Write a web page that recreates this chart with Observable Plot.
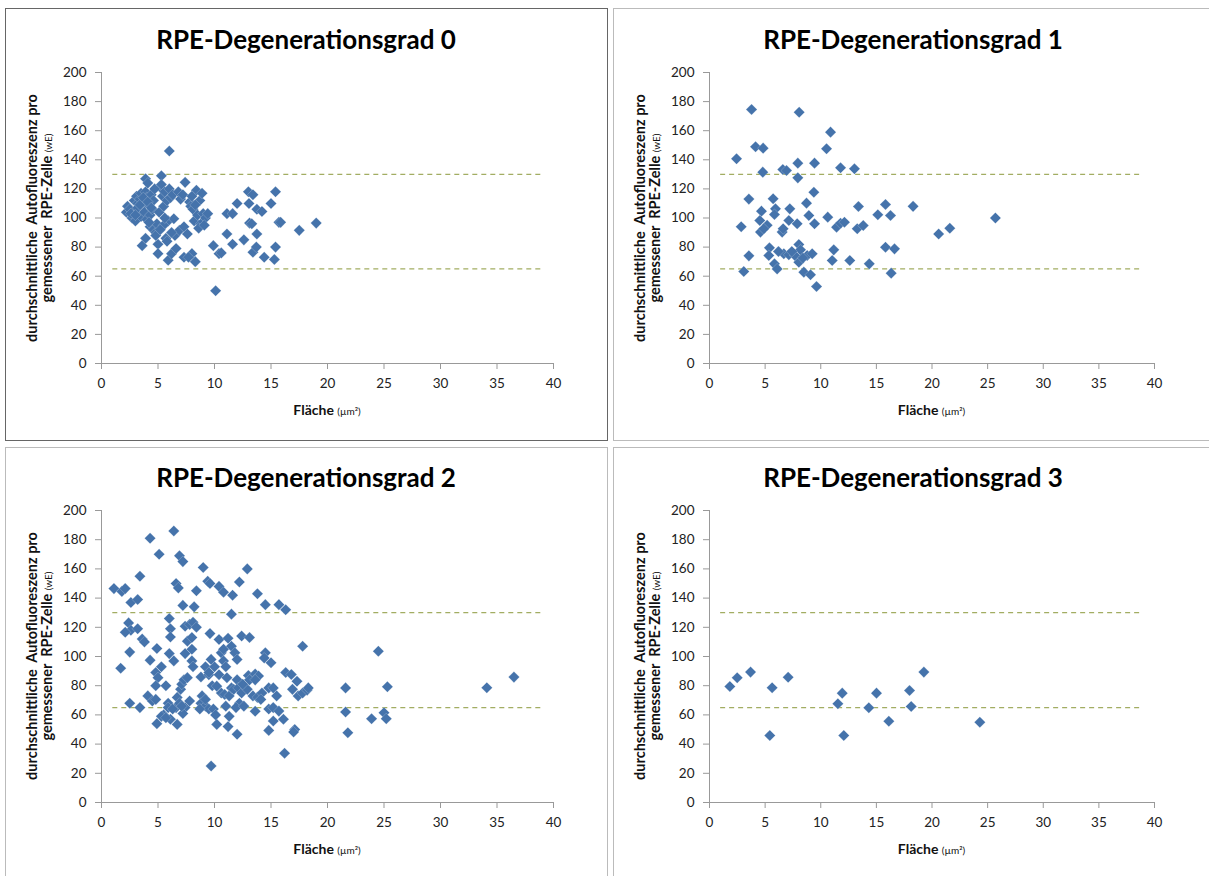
<!DOCTYPE html>
<html><head><meta charset="utf-8">
<script src="https://cdn.jsdelivr.net/npm/d3@7"></script>
<script src="https://cdn.jsdelivr.net/npm/@observablehq/plot@0.6"></script>
<style>
body{margin:0;background:#fff;}
#page{position:relative;width:1209px;height:876px;overflow:hidden;background:#fff;font-family:Lato,"Open Sans",sans-serif;color:#000;}
.panel{position:absolute;box-sizing:border-box;}
.title{position:absolute;font-weight:bold;font-size:26px;white-space:nowrap;transform:translate(-50%,-50%);}
.ylab{position:absolute;font-weight:bold;font-size:14.5px;white-space:nowrap;transform:translate(-50%,-50%) rotate(-90deg);color:#111;}
.xlab{position:absolute;font-weight:bold;font-size:14px;white-space:nowrap;transform:translate(-50%,-50%);color:#111;}
.small{font-weight:normal;font-size:10px;}
.plot{position:absolute;}
</style>
</head><body><div id="page"></div>
<script>
const titles = ["RPE-Degenerationsgrad 0","RPE-Degenerationsgrad 1","RPE-Degenerationsgrad 2","RPE-Degenerationsgrad 3"];
const yLabel1 = "durchschnittliche\u00a0\u00a0Autofluoreszenz pro";
const yLabel2 = "gemessener\u00a0\u00a0RPE-Zelle";
const yUnit = "(wE)";
const xLabel = "Fläche";
const xUnit = "(µm²)";
const xTicks = [0,5,10,15,20,25,30,35,40];
const yTicks = [0,20,40,60,80,100,120,140,160,180,200];
const refLines = [65,130];
const refStart = 1, refEnd = 39;

const grad0 = [
[2.2,104],[2.3,108],[2.5,106],[2.7,100],[2.9,112],[3.0,98],[3.1,115],[3.2,110],[3.3,105],[3.4,113],[3.5,117],[3.5,101],[3.6,108],[3.7,111],[3.8,104],[3.9,118],[3.9,127],[4.0,99],[4.0,114],[4.1,124],[4.2,109],[4.3,102],[4.4,116],[4.5,106],[4.6,112],
[3.6,81],[3.9,86],[4.3,94],[4.6,92],[4.8,90],[4.9,96],[5.0,82],[5.0,75.5],[5.1,104],[5.2,121],[5.3,129],[5.3,123],[5.4,115],[5.5,108],[5.6,118],[5.7,86],[5.8,112],[5.9,98],[5.9,71],[6.0,146],[6.0,120],[6.1,114],[6.2,75.5],[6.3,116],[6.4,99.5],[6.5,88],[6.6,79],[6.8,118],[6.9,91.5],[7.0,113],[7.2,116],[7.3,94],[7.3,73],[7.4,124.5],[7.6,89],[7.8,111],[7.9,108],[8.0,75.5],[8.1,106],[8.2,98],[8.3,70],[8.4,119],[8.5,102],[8.7,112],[8.8,96],[8.9,117],[9.0,103],[9.2,100],[9.4,103],[8.6,93],[9.1,95],[5.5,95],[5.8,84],[6.2,90],[4.7,120],[4.8,88],[5.2,92],[7.7,73],
[3.2,107],[3.4,109],[3.7,114],[4.1,111],[4.4,107],[2.6,103],[3.0,102],[4.2,97],[5.6,100],[8.3,109],[8.0,115],
[9.9,81],[10.1,50],[10.4,75.5],[10.6,76],[11.1,103],[11.6,103],[12.0,110],[11.1,89],[11.6,82],[12.6,85],[13.0,118],[13.4,116],[13.05,110],[13.1,96.5],[13.3,96],[13.4,76.5],[13.7,80],[13.75,89],[13.75,106],[14.2,104.5],[14.4,73],[15.0,110],[15.4,118],[15.4,80],[15.3,71.5],[15.7,97],[15.85,97],[17.5,91.5],[19.0,96.5]
];

const grad1 = [
[2.43,140.7],[3.78,174.6],[4.14,149],[4.82,148],[4.79,131.5],[3.08,63.2],[2.85,94],[3.54,74],[3.54,113],[4.67,104.7],[4.52,98.3],[4.58,90.3],[5.18,95],[4.88,92.6],[5.39,79.5],[5.33,74.2],[5.72,113.2],[5.93,106.3],[5.84,102.4],[5.84,68.5],[6.08,65],[6.53,90.3],[6.62,92.6],[6.59,133.3],[6.92,132.6],[6.68,75.4],[7.13,74.7],[7.22,106.3],[7.13,98.3],[7.67,74.2],[7.88,96],[7.94,137.7],[7.94,127.6],[8.06,172.7],[8.03,81.8],[8.18,78.1],[8.03,69.6],[8.72,110.2],[8.93,101.7],[9.38,117.7],[9.44,137.7],[9.44,96],[8.48,62.8],[9.08,61],[9.62,52.9],[8.78,74.2],[9.23,75.4],[10.52,147.6],[10.88,159],[10.63,100.6],[11.17,78.1],[11.03,70.8],[11.78,134.5],[11.42,93.7],[11.78,96.4],[12.13,97.1],[12.61,70.8],[13.03,133.8],[13.28,92.6],[13.39,107.9],[13.82,94.8],[14.36,68.5],[15.13,102.2],[15.82,109.3],[16.27,101.7],[15.82,79.9],[16.63,78.8],[16.33,62.1],[18.3,108],[20.6,89],[21.6,93],[25.7,100],
[6.2,77],[7.4,77],[8.4,72.5]
];

const grad2 = [
[1.1,146.5],[1.8,144.6],[2.1,146.5],[1.7,92],[2.5,103],[2.6,137],[3.2,139],[3.4,155],[4.3,181],[5.1,170],[6.4,186],[6.9,169],[7.2,165],[6.6,150],[6.8,147],[6.0,126],[7.2,135],[8.2,134],[8.4,145],[9.0,161],[9.4,151.5],[9.6,150],[10.4,148],[10.8,144],[11.6,142],[12.2,151],[12.9,160],[13.8,143],[14.5,135.5],[15.7,135.5],[16.3,132],[11.5,129],
[2.4,123],[2.6,118],[2.1,116.6],[3.2,119],[3.6,112],[3.8,110],[2.5,68],[3.4,65],[4.3,97.5],[4.9,105.5],[4.1,73],[4.5,69.5],[4.8,89],[5.0,85.5],[4.8,80],[4.9,54],[5.3,93],[5.7,80],[5.9,68],[5.9,65],[5.5,60],[6.1,119],[6.1,113.4],[6.0,102],[6.4,97],[6.6,65],[6.1,57],[6.7,53.5],[6.7,72],[7.0,77.5],[7.1,81],[6.9,68],[7.3,84],[7.6,85.5],[7.4,65],[7.2,61],[7.4,102],[7.6,110.5],[7.4,120.7],[7.8,122],[8.0,113],[8.0,105],[8.1,123.5],[8.4,120],[8.0,97],[8.1,93],[7.8,69.5],[8.8,86],[9.2,93],[8.9,73],[8.8,68],[9.2,66],[9.5,64],[9.7,25],[9.8,80],[9.5,87.5],[10.0,93],[9.7,98],[9.6,115.7],[9.9,64],[10.1,60],[10.4,87.5],[10.6,102.5],[10.8,105],[10.4,111.6],[10.2,53.5],[10.6,75],[10.9,74],[10.8,97],[11.0,93],[11.0,66],[11.3,73],[11.2,112.5],[11.5,107],[11.8,102.5],[11.5,78.5],[11.7,77.5],[11.2,52],[12.0,98],[12.0,84],[12.1,78.5],[12.0,46.7],[12.2,68],[11.9,65],[12.4,114],[13.1,113],[12.4,75],[12.9,77.5],[12.6,66],[13.0,87],[13.6,88],[13.9,86.6],[13.4,73],[13.8,72],[13.6,62.5],[14.5,102.5],[14.4,99],[14.2,75],[14.1,70.6],[14.8,78.5],[15.2,78.5],[15.0,95.7],[14.8,64],[15.2,65],[14.8,49.4],[15.2,55.8],[15.7,62.6],[16.1,57],[16.2,33.7],[16.3,89],[16.8,87.7],[16.9,77.5],[17.1,50],[17.0,48.3],[17.3,83],[17.4,73],[17.8,107],[17.8,75],[18.2,77],[18.3,78.5],[21.6,78.5],[21.6,62],[21.8,47.8],[23.9,57.4],[24.5,103.6],[25.0,61.5],[25.2,57.4],[25.3,79.3],[34.1,78.6],[36.5,85.9],
[4.8,70.6],[5.3,59],[5.7,58],[6.3,64],[9.2,70.6],[10.2,79.7],[11.1,85.4],[12.5,81],[13.1,84],[9.5,89],[8.7,64],[7.1,66],[13.6,84],[15.5,73],[11.3,59]
];

const grad3 = [
[1.83,79.5],[2.49,85.4],[3.69,89.3],[5.63,78.6],[5.42,45.9],[7.07,85.8],[11.54,67.6],[11.93,74.9],[12.07,45.9],[14.32,64.9],[15.01,74.9],[16.12,55.7],[17.98,76.7],[18.13,65.8],[19.27,89.3],[24.3,55]
];

const series = [grad0, grad1, grad2, grad3];

// layout (page pixels)
const panels = [
  {box:[5,8,603,433], border:"#666", x0:101, x1:553, yTop:72, yBot:363, tx:306},
  {box:[613,8,600,433], border:"#bbb", x0:709, x1:1154, yTop:72, yBot:363, tx:913},
  {box:[5,447,603,440], border:"#bbb", x0:101, x1:553, yTop:510, yBot:802, tx:306},
  {box:[613,447,600,440], border:"#bbb", x0:709, x1:1154, yTop:510, yBot:802, tx:913}
];

const page = document.getElementById("page");
const mL=60, mR=20, mT=20, mB=35;

panels.forEach((p, i) => {
  const b = document.createElement("div");
  b.className = "panel";
  Object.assign(b.style, {left:p.box[0]+"px", top:p.box[1]+"px", width:p.box[2]+"px", height:p.box[3]+"px", border:"1px solid "+p.border});
  page.appendChild(b);

  const pw = p.x1 - p.x0, ph = p.yBot - p.yTop;
  const svg = Plot.plot({
    width: pw + mL + mR, height: ph + mT + mB,
    marginLeft: mL, marginRight: mR, marginTop: mT, marginBottom: mB,
    style: {fontFamily: "Lato, sans-serif", fontSize: "13.5px", color: "#222", background: "transparent", overflow: "visible"},
    x: {domain: [0, 40]},
    y: {domain: [0, 200]},
    marks: [
      Plot.ruleY(refLines, {x1: refStart, x2: refEnd, stroke: "#a2ad62", strokeWidth: 1.3, strokeDasharray: "5,4"}),
      Plot.axisX({ticks: xTicks, tickSize: 6, tickPadding: 9, stroke: "#999", fill: "#222", label: null}),
      Plot.axisY({ticks: yTicks, tickSize: 6, tickPadding: 9, stroke: "#999", fill: "#222", label: null}),
      Plot.ruleX([0], {stroke: "#999"}),
      Plot.ruleY([0], {stroke: "#999"}),
      Plot.dot(series[i], {x: d => d[0], y: d => d[1], symbol: "diamond2", r: 5, fill: "#4573ab", stroke: "#ffffff", strokeOpacity: 0.4, strokeWidth: 0.5})
    ]
  });
  svg.classList.add("plot");
  svg.style.left = (p.x0 - mL) + "px";
  svg.style.top = (p.yTop - mT) + "px";
  page.appendChild(svg);

  const t = document.createElement("div");
  t.className = "title"; t.textContent = titles[i];
  t.style.left = p.tx + "px"; t.style.top = (p.yTop - 33) + "px";
  page.appendChild(t);

  const yc = (p.yTop + p.yBot) / 2;
  const l1 = document.createElement("div");
  l1.className = "ylab"; l1.textContent = yLabel1;
  l1.style.left = (p.x0 - 70) + "px"; l1.style.top = yc + "px";
  page.appendChild(l1);
  const l2 = document.createElement("div");
  l2.className = "ylab"; l2.innerHTML = yLabel2 + ' <span class="small">' + yUnit + '</span>';
  l2.style.left = (p.x0 - 55) + "px"; l2.style.top = yc + "px";
  page.appendChild(l2);

  const xl = document.createElement("div");
  xl.className = "xlab"; xl.innerHTML = xLabel + ' <span class="small">' + xUnit + '</span>';
  xl.style.left = ((p.x0 + p.x1) / 2) + "px"; xl.style.top = (p.yBot + 46) + "px";
  page.appendChild(xl);
});
</script>
</body></html>
